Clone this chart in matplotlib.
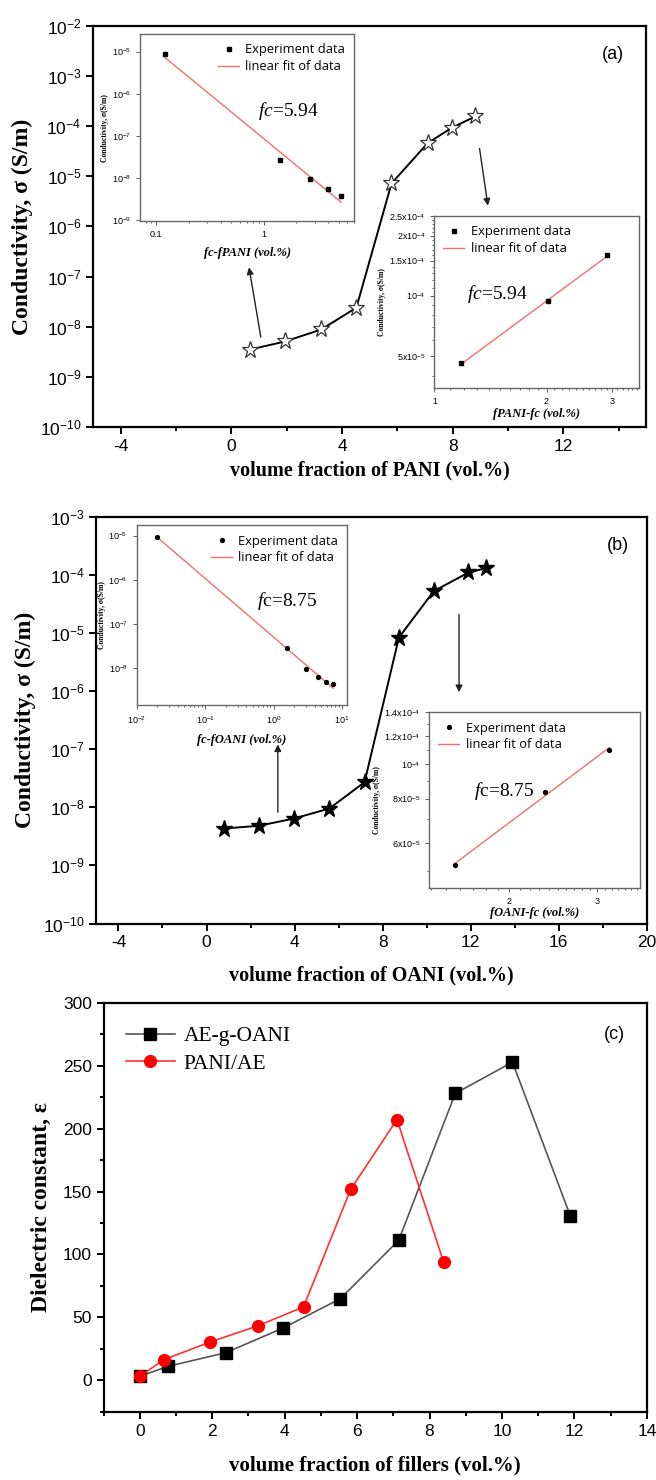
import numpy as np
import matplotlib
matplotlib.use("Agg")
import matplotlib.pyplot as plt
from matplotlib.ticker import MultipleLocator, FixedLocator, FixedFormatter, NullFormatter, LogFormatterSciNotation

plt.rcParams['font.family'] = ['Liberation Serif', 'DejaVu Serif']
plt.rcParams['mathtext.fontset'] = 'custom'
plt.rcParams['mathtext.rm'] = 'Liberation Sans'
plt.rcParams['mathtext.it'] = 'Liberation Serif:italic'
plt.rcParams['mathtext.bf'] = 'Liberation Serif:bold'
plt.rcParams['axes.unicode_minus'] = False

# -----------------------------
# data
# -----------------------------
# (a) PANI
pani_f = [0.68, 1.95, 3.25, 4.52, 5.79, 7.10, 7.97, 8.82]
pani_sigma = [3.5e-9, 5.1e-9, 8.8e-9, 2.4e-8, 7.2e-6, 4.6e-5, 9.3e-5, 1.56e-4]
pani_below_x = [0.121, 1.42, 2.70, 3.95, 5.27]
pani_below_y = [8.6e-6, 2.6e-8, 9.2e-9, 5.5e-9, 3.7e-9]
pani_above_x = [1.18, 2.02, 2.91]
pani_above_y = [4.6e-5, 9.4e-5, 1.6e-4]

# (b) OANI
oani_f = [0.78, 2.38, 3.98, 5.58, 7.18, 8.74, 10.32, 11.90, 12.70]
oani_sigma = [4.3e-9, 4.8e-9, 6.4e-9, 9.5e-9, 2.7e-8, 8.3e-6, 5.2e-5, 1.09e-4, 1.29e-4]
oani_below_x = [0.020, 1.55, 3.01, 4.53, 5.93, 7.43]
oani_below_y = [9.5e-6, 2.8e-8, 9.8e-9, 6.4e-9, 4.9e-9, 4.3e-9]
oani_above_x = [1.56, 2.36, 3.17]
oani_above_y = [5.2e-5, 8.35e-5, 1.10e-4]

# (c) dielectric constant
aeg_f = [0.0, 0.78, 2.38, 3.96, 5.54, 7.15, 8.71, 10.29, 11.89]
aeg_eps = [3.2, 11.1, 22.0, 41.6, 64.9, 111.3, 227.9, 252.8, 130.4]
pae_f = [0.0, 0.66, 1.95, 3.25, 4.52, 5.82, 7.10, 8.39]
pae_eps = [3.2, 16.4, 30.5, 43.2, 58.3, 151.6, 207.2, 93.8]

SANS = ['Liberation Sans', 'DejaVu Sans']
LEG = ['Open Sans', 'DejaVu Sans']


def decades(lo, hi):
    return [10.0 ** k for k in range(lo, hi + 1)]


def log_minor(lo, hi):
    return [m * 10.0 ** k for k in range(lo, hi) for m in range(2, 10)]


def style_main(ax):
    for s in ax.spines.values():
        s.set_linewidth(1.6)
    ax.tick_params(which='both', direction='out', top=False, right=False, width=1.4)
    ax.tick_params(which='major', length=5, labelsize=12.5)
    ax.tick_params(which='minor', length=3)
    for lab in ax.get_xticklabels() + ax.get_yticklabels():
        lab.set_family(SANS)


def fit_line(ax, x, y):
    p = np.polyfit(np.log10(x), np.log10(y), 1)
    xx = np.array([min(x), max(x)])
    ax.plot(xx, 10 ** np.polyval(p, np.log10(xx)), color='#f07070', lw=1.0,
            label='linear fit of data', zorder=2)


def style_inset(ax, xlabel, fc_text, fc_pos, leg_loc, xpad=6):
    for s in ax.spines.values():
        s.set_linewidth(1.0)
        s.set_color('#666666')
    ax.tick_params(which='both', direction='out', top=False, right=False,
                   labelsize=6.5, width=0.6, color='#444444')
    ax.tick_params(which='major', length=3)
    ax.tick_params(which='minor', length=1.6)
    for lab in ax.get_xticklabels() + ax.get_yticklabels():
        lab.set_family(SANS)
    ax.set_xlabel(xlabel, fontsize=9, fontweight='bold', fontstyle='italic', labelpad=xpad)
    ax.set_ylabel('Conductivity, σ(S/m)', fontsize=5.5, fontweight='bold', labelpad=2)
    ax.text(fc_pos[0], fc_pos[1], fc_text, transform=ax.transAxes, fontsize=14)
    ax.legend(loc=leg_loc, frameon=False, prop={'family': LEG, 'size': 9.3},
              handlelength=1.6, handletextpad=0.5, borderaxespad=0.3, labelspacing=0.3)


fig = plt.figure(figsize=(6.56, 14.8), dpi=100)

# -----------------------------
# (a)
# -----------------------------
ax1 = fig.add_axes([0.142, 0.7115, 0.843, 0.271])
ax1.plot(pani_f, pani_sigma, color='black', lw=1.4, marker='*', ms=12.5,
         mfc='white', mec='#333333', mew=0.9)
ax1.set_yscale('log')
ax1.set_xlim(-5, 15)
ax1.set_ylim(1e-10, 1e-2)
ax1.xaxis.set_major_locator(FixedLocator([-4, 0, 4, 8, 12]))
ax1.xaxis.set_minor_locator(FixedLocator([-2, 2, 6, 10, 14]))
ax1.yaxis.set_major_locator(FixedLocator(decades(-10, -2)))
ax1.yaxis.set_major_formatter(LogFormatterSciNotation())
ax1.yaxis.set_minor_locator(FixedLocator([]))
style_main(ax1)
ax1.set_xlabel('volume fraction of PANI (vol.%)', fontsize=14.5, fontweight='bold', labelpad=5)
ax1.set_ylabel('Conductivity, σ (S/m)', fontsize=17, fontweight='bold', labelpad=5)
ax1.text(0.94, 0.928, '(a)', transform=ax1.transAxes, fontsize=13, family=SANS,
         ha='center', va='center')
ax1.annotate('', xy=(0.62, 10 ** -6.76), xytext=(1.08, 10 ** -8.26),
             arrowprops=dict(arrowstyle='-|>', color='#222222', lw=1.0, mutation_scale=10))
ax1.annotate('', xy=(9.29, 10 ** -5.64), xytext=(8.96, 10 ** -4.39),
             arrowprops=dict(arrowstyle='-|>', color='#222222', lw=1.0, mutation_scale=10))

ia1 = ax1.inset_axes([0.0844, 0.514, 0.388, 0.465])
ia1.plot(pani_below_x, pani_below_y, 's', color='black', ms=2.8, label='Experiment data', zorder=3)
fit_line(ia1, pani_below_x, pani_below_y)
ia1.set_xscale('log')
ia1.set_yscale('log')
ia1.set_xlim(0.0703, 7.03)
ia1.set_ylim(10 ** -9.02, 10 ** -4.59)
ia1.xaxis.set_major_locator(FixedLocator([0.1, 1]))
ia1.xaxis.set_major_formatter(FixedFormatter(['0.1', '1']))
ia1.xaxis.set_minor_locator(FixedLocator([v for v in log_minor(-2, 1) if 0.0703 < v < 7.03]))
ia1.xaxis.set_minor_formatter(NullFormatter())
ia1.yaxis.set_major_locator(FixedLocator(decades(-9, -5)))
ia1.yaxis.set_major_formatter(LogFormatterSciNotation())
ia1.yaxis.set_minor_locator(FixedLocator([]))
style_inset(ia1, 'fc-fPANI (vol.%)', r'$\mathit{fc}$=5.94', (0.55, 0.56), 'upper right')

ia2 = ax1.inset_axes([0.617, 0.098, 0.370, 0.427])
ia2.plot(pani_above_x, pani_above_y, 's', color='black', ms=2.8, label='Experiment data', zorder=3)
fit_line(ia2, pani_above_x, pani_above_y)
ia2.set_xscale('log')
ia2.set_yscale('log')
ia2.set_xlim(1.0, 3.54)
ia2.set_ylim(3.48e-5, 2.5e-4)
ia2.xaxis.set_major_locator(FixedLocator([1, 2, 3]))
ia2.xaxis.set_major_formatter(FixedFormatter(['1', '2', '3']))
ia2.xaxis.set_minor_locator(FixedLocator(np.arange(1.1, 3.55, 0.1)))
ia2.xaxis.set_minor_formatter(NullFormatter())
ia2.yaxis.set_major_locator(FixedLocator([5e-5, 1e-4, 1.5e-4, 2e-4, 2.5e-4]))
ia2.yaxis.set_major_formatter(FixedFormatter([r'5x10$^{-5}$', r'10$^{-4}$', r'1.5x10$^{-4}$',
                                              r'2x10$^{-4}$', r'2.5x10$^{-4}$']))
ia2.yaxis.set_minor_locator(FixedLocator(np.arange(4e-5, 2.5e-4, 1e-5)))
ia2.yaxis.set_minor_formatter(NullFormatter())
style_inset(ia2, 'fPANI-fc (vol.%)', r'$\mathit{fc}$=5.94', (0.16, 0.52), 'upper left', xpad=2)

# -----------------------------
# (b)
# -----------------------------
ax2 = fig.add_axes([0.147, 0.376, 0.839, 0.275])
ax2.plot(oani_f, oani_sigma, color='black', lw=1.4, marker='*', ms=12.5,
         mfc='black', mec='black')
ax2.set_yscale('log')
ax2.set_xlim(-5, 20)
ax2.set_ylim(1e-10, 1e-3)
ax2.xaxis.set_major_locator(FixedLocator([-4, 0, 4, 8, 12, 16, 20]))
ax2.xaxis.set_minor_locator(FixedLocator([-2, 2, 6, 10, 14, 18]))
ax2.yaxis.set_major_locator(FixedLocator(decades(-10, -3)))
ax2.yaxis.set_major_formatter(LogFormatterSciNotation())
ax2.yaxis.set_minor_locator(FixedLocator([]))
style_main(ax2)
ax2.set_xlabel('volume fraction of OANI (vol.%)', fontsize=14.5, fontweight='bold', labelpad=11)
ax2.set_ylabel('Conductivity, σ (S/m)', fontsize=17, fontweight='bold', labelpad=5)
ax2.text(0.947, 0.930, '(b)', transform=ax2.transAxes, fontsize=13, family=SANS,
         ha='center', va='center')
ax2.annotate('', xy=(3.24, 10 ** -6.87), xytext=(3.24, 10 ** -8.135),
             arrowprops=dict(arrowstyle='-|>', color='#222222', lw=1.0, mutation_scale=10))
ax2.annotate('', xy=(11.47, 10 ** -6.07), xytext=(11.47, 10 ** -4.636),
             arrowprops=dict(arrowstyle='-|>', color='#222222', lw=1.0, mutation_scale=10))

ib1 = ax2.inset_axes([0.073, 0.537, 0.383, 0.441])
ib1.plot(oani_below_x, oani_below_y, 'o', color='black', ms=2.8, label='Experiment data', zorder=3)
fit_line(ib1, oani_below_x, oani_below_y)
ib1.set_xscale('log')
ib1.set_yscale('log')
ib1.set_xlim(0.01, 12)
ib1.set_ylim(10 ** -8.83, 10 ** -4.77)
ib1.xaxis.set_major_locator(FixedLocator(decades(-2, 1)))
ib1.xaxis.set_major_formatter(LogFormatterSciNotation())
ib1.xaxis.set_minor_locator(FixedLocator([v for v in log_minor(-2, 2) if v < 12]))
ib1.xaxis.set_minor_formatter(NullFormatter())
ib1.yaxis.set_major_locator(FixedLocator(decades(-8, -5)))
ib1.yaxis.set_major_formatter(LogFormatterSciNotation())
ib1.yaxis.set_minor_locator(FixedLocator([]))
style_inset(ib1, 'fc-fOANI (vol.%)', r'$\mathit{f}$c=8.75', (0.57, 0.55), 'upper right')

ib2 = ax2.inset_axes([0.605, 0.0885, 0.382, 0.430])
ib2.plot(oani_above_x, oani_above_y, 'o', color='black', ms=2.8, label='Experiment data', zorder=3)
fit_line(ib2, oani_above_x, oani_above_y)
ib2.set_xscale('log')
ib2.set_yscale('log')
ib2.set_xlim(1.39, 3.64)
ib2.set_ylim(4.5e-5, 1.4e-4)
ib2.xaxis.set_major_locator(FixedLocator([2, 3]))
ib2.xaxis.set_major_formatter(FixedFormatter(['2', '3']))
ib2.xaxis.set_minor_locator(FixedLocator(np.arange(1.4, 3.65, 0.1)))
ib2.xaxis.set_minor_formatter(NullFormatter())
ib2.yaxis.set_major_locator(FixedLocator([6e-5, 8e-5, 1e-4, 1.2e-4, 1.4e-4]))
ib2.yaxis.set_major_formatter(FixedFormatter([r'6x10$^{-5}$', r'8x10$^{-5}$', r'10$^{-4}$',
                                              r'1.2x10$^{-4}$', r'1.4x10$^{-4}$']))
ib2.yaxis.set_minor_locator(FixedLocator(np.arange(5e-5, 1.4e-4, 1e-5)))
ib2.yaxis.set_minor_formatter(NullFormatter())
style_inset(ib2, 'fOANI-fc (vol.%)', r'$\mathit{f}$c=8.75', (0.21, 0.52), 'upper left', xpad=1)

# -----------------------------
# (c)
# -----------------------------
ax3 = fig.add_axes([0.158, 0.0461, 0.828, 0.2764])
ax3.plot(aeg_f, aeg_eps, color='#555555', lw=1.2, marker='s', ms=8,
         mfc='black', mec='black', label='AE-g-OANI')
ax3.plot(pae_f, pae_eps, color='#ff3030', lw=1.2, marker='o', ms=8.5,
         mfc='red', mec='red', label='PANI/AE')
ax3.set_xlim(-1, 14)
ax3.set_ylim(-25, 300)
ax3.xaxis.set_major_locator(MultipleLocator(2))
ax3.xaxis.set_minor_locator(MultipleLocator(1))
ax3.yaxis.set_major_locator(MultipleLocator(50))
ax3.yaxis.set_minor_locator(MultipleLocator(25))
style_main(ax3)
ax3.set_xlabel('volume fraction of fillers (vol.%)', fontsize=15, fontweight='bold', labelpad=12)
ax3.set_ylabel('Dielectric constant, ε', fontsize=17, fontweight='bold', labelpad=8)
ax3.text(0.94, 0.923, '(c)', transform=ax3.transAxes, fontsize=13, family=SANS,
         ha='center', va='center')
ax3.legend(loc='upper left', frameon=False, fontsize=15.5, handlelength=2.3,
           handletextpad=0.4, bbox_to_anchor=(0.005, 0.99), labelspacing=0.35)

fig.savefig('out.png', dpi=100)
